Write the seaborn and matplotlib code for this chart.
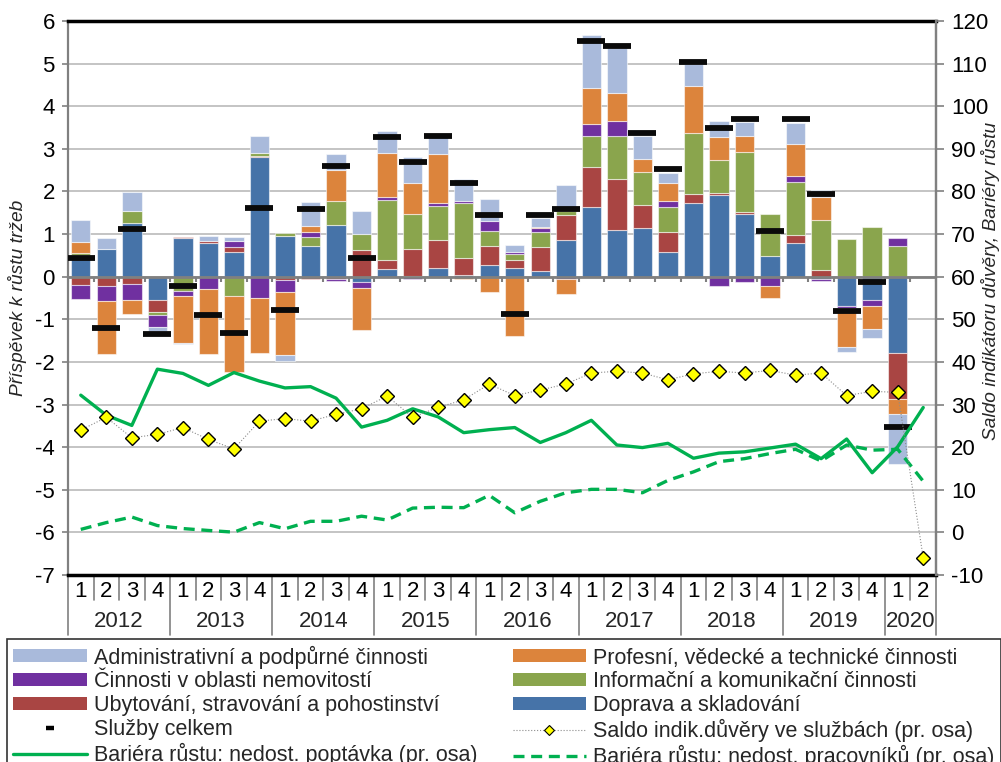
import numpy as np
import matplotlib
matplotlib.use("Agg")
import matplotlib.pyplot as plt
from matplotlib.patches import Patch
from matplotlib.lines import Line2D
import seaborn as sns

# ---------------- data ----------------
quarters = ["1", "2", "3", "4"] * 8 + ["1", "2"]
years = ["2012", "2013", "2014", "2015", "2016", "2017", "2018", "2019", "2020"]

nan = np.nan
doprava = [0.50, 0.66, 1.27, -0.55, 0.91, 0.80, 0.57, 2.80, 0.96, 0.71, 1.21, -0.13,
           0.18, 0.02, 0.20, 0.05, 0.28, 0.20, 0.14, 0.86, 1.625, 1.09, 1.14, 0.59,
           1.74, 1.91, 1.46, 0.49, 0.78, -0.06, -0.68, -0.55, -1.80, nan]
ubytovani = [-0.19, -0.23, -0.17, -0.29, 0.03, 0.04, 0.13, 0.04, -0.08, -0.05, -0.05, 0.62,
             0.22, 0.62, 0.65, 0.39, 0.43, 0.19, 0.56, 0.59, 0.94, 1.20, 0.54, 0.46,
             0.19, 0.06, 0.05, 0.0, 0.21, 0.16, 0.0, 0.0, -1.07, nan]
informacni = [0.05, 0.0, 0.26, -0.07, -0.33, 0.0, -0.45, 0.07, 0.07, 0.21, 0.56, 0.39,
              1.41, 0.83, 0.81, 1.30, 0.37, 0.14, 0.34, 0.08, 0.74, 1.02, 0.77, 0.59,
              1.45, 0.77, 1.42, 0.98, 1.23, 1.16, 0.88, 1.16, 0.71, nan]
nemovitosti = [-0.34, -0.33, -0.37, -0.28, -0.12, -0.29, 0.14, -0.50, -0.27, 0.13, -0.04, -0.14,
               0.05, -0.05, 0.08, 0.04, 0.22, 0.06, 0.10, -0.06, 0.27, 0.35, -0.03, 0.13,
               0.0, -0.23, -0.12, -0.23, 0.15, -0.05, -0.05, -0.13, 0.19, nan]
profesni = [0.26, -1.26, -0.34, 0.0, -1.10, -1.52, -1.79, -1.30, -1.48, 0.15, 0.73, -0.99,
            1.04, 0.72, 1.13, -0.06, -0.35, -1.38, 0.03, -0.34, 0.86, 0.66, 0.32, 0.42,
            1.10, 0.53, 0.36, -0.27, 0.75, 0.55, -0.93, -0.55, -0.35, nan]
administrativni = [0.51, 0.24, 0.45, -0.08, -0.03, 0.12, 0.09, 0.40, -0.16, 0.55, 0.39, 0.52,
                   0.52, 0.62, 0.43, 0.51, 0.52, 0.16, 0.20, 0.62, 1.23, 1.05, 0.54, 0.24,
                   0.51, 0.375, 0.33, 0.0, 0.49, 0.17, -0.11, -0.20, -1.17, nan]
sluzby_celkem = [0.45, -1.20, 1.11, -1.35, -0.23, -0.89, -1.33, 1.62, -0.79, 1.58, 2.59, 0.43,
                 3.27, 2.70, 3.29, 2.19, 1.44, -0.88, 1.44, 1.60, 5.52, 5.42, 3.38, 2.52,
                 5.04, 3.50, 3.69, 1.08, 3.69, 1.95, -0.81, -0.13, -3.52, nan]
saldo = [24.0, 27.0, 22.2, 23.0, 24.6, 21.8, 19.6, 26.1, 26.7, 26.1, 27.7, 29.0,
         32.0, 27.0, 29.35, 31.1, 34.8, 32.1, 33.4, 34.8, 37.4, 37.8, 37.4, 35.8,
         37.2, 37.8, 37.4, 38.0, 36.9, 37.4, 32.1, 33.1, 32.85, -6.0]
poptavka = [32.2, 27.5, 25.1, 38.3, 37.3, 34.5, 37.5, 35.5, 33.9, 34.2, 31.5, 24.7,
            26.3, 29.0, 27.1, 23.4, 24.1, 24.6, 21.1, 23.4, 26.3, 20.5, 19.9, 20.9,
            17.4, 18.6, 18.9, 19.8, 20.7, 17.3, 21.9, 14.0, 20.1, 29.3]
pracovniku = [0.7, 2.3, 3.6, 1.6, 0.9, 0.45, 0.05, 2.3, 0.85, 2.6, 2.6, 3.8,
              2.9, 5.7, 5.9, 5.8, 8.7, 4.6, 7.3, 9.3, 10.1, 10.1, 9.3, 12.2,
              14.2, 16.6, 17.3, 18.5, 19.5, 16.75, 20.5, 19.3, 19.5, 12.0]

labels = {
    "admin": "Administrativní a podpůrné činnosti",
    "prof": "Profesní, vědecké a technické činnosti",
    "nemov": "Činnosti v oblasti nemovitostí",
    "info": "Informační a komunikační činnosti",
    "ubyt": "Ubytování, stravování a pohostinství",
    "doprava": "Doprava a skladování",
    "celkem": "Služby celkem",
    "saldo": "Saldo indik.důvěry ve službách (pr. osa)",
    "poptavka": "Bariéra růstu: nedost. poptávka (pr. osa)",
    "pracovniku": "Bariéra růstu: nedost. pracovníků (pr. osa)",
}
colors = {
    "doprava": "#4673A8", "ubyt": "#A94543", "info": "#8AA54D",
    "nemov": "#7030A0", "prof": "#DC843C", "admin": "#A9BADB",
}

# ---------------- style ----------------
sns.set_theme(style="white")
plt.rcParams["font.family"] = ["Liberation Sans", "DejaVu Sans"]
plt.rcParams["axes.unicode_minus"] = False
FS = 15.5
TFS = 16

fig = plt.figure(figsize=(10.01, 7.62), dpi=100)
W, H = 1001, 762
ax = fig.add_axes([68 / W, 1 - 575 / H, 868 / W, 554 / H])

n = len(quarters)
x = np.arange(n)

stack = [("doprava", doprava), ("ubyt", ubytovani), ("info", informacni),
         ("nemov", nemovitosti), ("prof", profesni), ("admin", administrativni)]
pos = np.zeros(n)
neg = np.zeros(n)
for key, vals in stack:
    v = np.nan_to_num(np.array(vals, dtype=float))
    bottom = np.where(v >= 0, pos, neg)
    h = np.where(v == 0, np.nan, v)
    ax.bar(x, h, width=0.76, bottom=bottom, color=colors[key],
           edgecolor=(1, 1, 1, 0.55), linewidth=0.8, zorder=2)
    pos += np.where(v > 0, v, 0)
    neg += np.where(v < 0, v, 0)

ax.plot(x, sluzby_celkem, ls="none", marker="_", ms=19.5, mew=4.2,
        color="#0A0A0A", zorder=4)

ax.set_xlim(-0.5, n - 0.5)
ax.set_ylim(-7, 6)
ax.set_yticks(range(-7, 7))
ax.yaxis.grid(True, color="#BFBFBF", lw=1.3)
ax.set_axisbelow(True)
ax.axhline(0, color="#808080", lw=2, zorder=3)
ax.vlines(np.arange(-0.5, n), -0.13, 0, color="#808080", lw=1.5, zorder=3)

for s in ["top", "bottom"]:
    ax.spines[s].set_color("black")
    ax.spines[s].set_linewidth(2.5)
for s in ["left", "right"]:
    ax.spines[s].set_color("#808080")
    ax.spines[s].set_linewidth(1.6)

ax.tick_params(axis="y", which="both", left=True, length=4.5, width=1.2,
               color="#808080", labelsize=TFS, pad=5, labelcolor="black")
ax.set_xticks(x)
ax.set_xticklabels(quarters, fontsize=TFS)
ax.tick_params(axis="x", length=0, pad=4, labelcolor="black")

# category separators and year labels
xtr = ax.get_xaxis_transform()
for k in range(n + 1):
    b = k - 0.5
    long = (k % 4 == 0) or k == n
    ax.plot([b, b], [0, -0.108 if long else -0.045], transform=xtr,
            color="#808080", lw=1.2, clip_on=False)
for j, yr in enumerate(years):
    start = 4 * j
    end = min(4 * j + 3, n - 1)
    ax.text((start + end) / 2, -0.0848, yr, transform=xtr, ha="center",
            va="center", fontsize=TFS)

# ---------------- right axis ----------------
ax2 = ax.twinx()
ax2.set_ylim(-10, 120)
ax2.set_yticks(range(-10, 121, 10))
for s in ["top", "bottom", "left"]:
    ax2.spines[s].set_visible(False)
ax2.spines["right"].set_color("#808080")
ax2.spines["right"].set_linewidth(1.6)
ax2.tick_params(axis="y", right=True, length=6, width=1.2, color="#808080",
                labelsize=TFS, pad=5, labelcolor="black")
ax2.grid(False)

green = "#00B050"
sns.lineplot(x=x, y=poptavka, ax=ax2, color=green, lw=2.4, zorder=5)
sns.lineplot(x=x, y=pracovniku, ax=ax2, color=green, lw=2.4, zorder=5)
ax2.lines[-1].set_linestyle((0, (3.3, 2.0)))
sns.lineplot(x=x, y=saldo, ax=ax2, color="#8C8C8C", lw=0.8, zorder=6)
ln = ax2.lines[-1]
ln.set_linestyle(":")
ln.set_marker("D")
ln.set_markersize(6.8)
ln.set_markerfacecolor("#FFFF00")
ln.set_markeredgecolor("black")
ln.set_markeredgewidth(1.0)
ax2.set_xlabel("")
ax2.set_ylabel("")

# axis titles
fig.text(18 / W, 1 - 298 / H, "Příspěvek k růstu tržeb", rotation=90,
         style="italic", fontsize=13.8, ha="center", va="center")
fig.text(991 / W, 1 - 281 / H, "Saldo indikátoru důvěry, Bariéry růstu",
         rotation=90, style="italic", fontsize=13.8, ha="center", va="center")

# ---------------- legend ----------------
handles = [
    Patch(facecolor=colors["admin"], edgecolor="none"),
    Patch(facecolor=colors["nemov"], edgecolor="none"),
    Patch(facecolor=colors["ubyt"], edgecolor="none"),
    Line2D([], [], ls="none", marker="_", ms=6, mew=3.2, color="black"),
    Line2D([], [], color=green, lw=2.4),
    Patch(facecolor=colors["prof"], edgecolor="none"),
    Patch(facecolor=colors["info"], edgecolor="none"),
    Patch(facecolor=colors["doprava"], edgecolor="none"),
    Line2D([], [], color="#8C8C8C", lw=0.8, ls=":", marker="D", ms=5,
           mfc="#FFFF00", mec="black", mew=0.8),
    Line2D([], [], color=green, lw=2.4, ls=(0, (3.3, 2.0))),
]
leg_labels = [labels["admin"], labels["nemov"], labels["ubyt"], labels["celkem"],
              labels["poptavka"], labels["prof"], labels["info"], labels["doprava"],
              labels["saldo"], labels["pracovniku"]]
leg = fig.legend(handles, leg_labels, ncol=2, loc="upper left",
                 bbox_to_anchor=(7 / W, 1 - 639 / H), frameon=True, fontsize=FS,
                 handlelength=3.4, handleheight=0.55, handletextpad=0.35,
                 labelspacing=0.13, columnspacing=1.62, borderpad=0.3,
                 borderaxespad=0, fancybox=False, edgecolor="black")
leg.get_frame().set_linewidth(1.2)

fig.savefig("out.png", dpi=100)
